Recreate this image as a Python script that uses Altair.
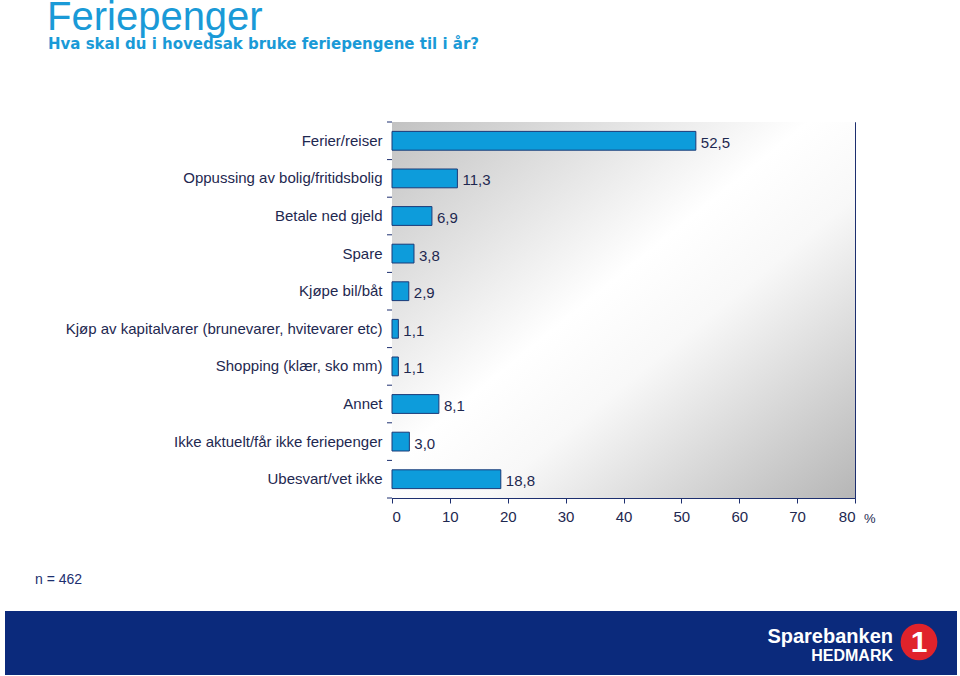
import altair as alt
import pandas as pd

categories = [
    "Ferier/reiser",
    "Oppussing av bolig/fritidsbolig",
    "Betale ned gjeld",
    "Spare",
    "Kjøpe bil/båt",
    "Kjøp av kapitalvarer (brunevarer, hvitevarer etc)",
    "Shopping (klær, sko mm)",
    "Annet",
    "Ikke aktuelt/får ikke feriepenger",
    "Ubesvart/vet ikke",
]
values = [52.5, 11.3, 6.9, 3.8, 2.9, 1.1, 1.1, 8.1, 3.0, 18.8]
x_ticks = [0, 10, 20, 30, 40, 50, 60, 70, 80]

title_text = "Feriepenger"
subtitle_text = "Hva skal du i hovedsak bruke feriepengene til i år?"
n_text = "n = 462"

df = pd.DataFrame({
    "kategori": categories,
    "andel": values,
    "etikett": [f"{v:.1f}".replace(".", ",") for v in values],
})

W, H = 463, 376
PL, PT = 392, 122
STEP = H / len(categories)
NAVY = "#1D2F6F"
TXT = "#1E2850"
BLUE = "#1A9AD7"
FONT = "Liberation Sans"

one = pd.DataFrame({"t": [""]})

bg = alt.Chart(one).mark_rect(
    fill=alt.Gradient(
        gradient="linear",
        stops=[
            alt.GradientStop(color="#c2c2c2", offset=0),
            alt.GradientStop(color="#ffffff", offset=0.45),
            alt.GradientStop(color="#f8f8f8", offset=0.6),
            alt.GradientStop(color="#b6b6b6", offset=1),
        ],
        x1=0, y1=0, x2=1, y2=1,
    )
).encode(x=alt.value(0), x2=alt.value(W), y=alt.value(0), y2=alt.value(H))

y_enc = alt.Y(
    "kategori:N",
    sort=categories,
    scale=alt.Scale(paddingInner=0.5, paddingOuter=0.25),
    axis=alt.Axis(
        title=None, ticks=False, labelPadding=10, labelLimit=500,
        labelFontSize=15, labelFont=FONT, labelColor=TXT, domainColor=NAVY,
    ),
)
x_enc = alt.X(
    "andel:Q",
    scale=alt.Scale(domain=[0, 80], nice=False),
    axis=alt.Axis(
        title=None, values=x_ticks, grid=False, tickSize=5, labelPadding=6,
        labelFontSize=15, labelFont=FONT, labelColor=TXT,
        domainColor=NAVY, tickColor=NAVY,
    ),
)

bars = alt.Chart(df).mark_bar(
    color="#0D9CDB", stroke="#1B3A78", strokeWidth=1
).encode(x=x_enc, y=y_enc)

# category separator ticks on the left axis (at band boundaries)
yticks = alt.Chart(df).mark_rule(color=NAVY, strokeWidth=1, yOffset=-STEP / 2).encode(
    y=alt.Y("kategori:N", sort=categories), x=alt.value(-5), x2=alt.value(0)
)
ytick_end = alt.Chart(one).mark_rule(color=NAVY, strokeWidth=1).encode(
    y=alt.value(H), x=alt.value(-5), x2=alt.value(0)
)

labels = alt.Chart(df).mark_text(
    align="left", baseline="middle", dx=5, dy=2, fontSize=15, font=FONT, color=TXT
).encode(x="andel:Q", y=alt.Y("kategori:N", sort=categories), text="etikett:N")

def txt(s, x, y, **kw):
    return alt.Chart(pd.DataFrame({"t": [s]})).mark_text(**kw).encode(
        x=alt.value(x), y=alt.value(y), text="t:N"
    )

title = txt(title_text, 47 - PL, 30 - PT, align="left", baseline="alphabetic",
            fontSize=40, font=FONT, color=BLUE)
subtitle = txt(subtitle_text, 48 - PL, 49 - PT, align="left", baseline="alphabetic",
               fontSize=15, font="DejaVu Sans", fontWeight="bold", color=BLUE)
pct = txt("%", 864 - PL, 519 - PT, align="left", baseline="middle",
          fontSize=13, font=FONT, color=TXT)
ntxt = txt(n_text, 35 - PL, 580 - PT, align="left", baseline="middle",
           fontSize=14, font=FONT, color=NAVY)

banner = alt.Chart(one).mark_rect(color="#0B2A7C").encode(
    x=alt.value(5 - PL), x2=alt.value(957 - PL), y=alt.value(611 - PT), y2=alt.value(675 - PT)
)
logo1 = txt("Sparebanken", 893 - PL, 643 - PT, align="right", baseline="alphabetic",
            fontSize=20, font=FONT, fontWeight="bold", color="white")
logo2 = txt("HEDMARK", 893 - PL, 661 - PT, align="right", baseline="alphabetic",
            fontSize=16, font=FONT, fontWeight="bold", color="white")
circ = alt.Chart(one).mark_point(filled=True, shape="circle", size=1350, color="#E0232B", opacity=1).encode(
    x=alt.value(919 - PL), y=alt.value(642 - PT)
)
one_txt = txt("1", 919 - PL, 643 - PT, align="center", baseline="middle",
              fontSize=30, font=FONT, fontWeight="bold", color="white")

chart = alt.layer(
    bg, bars, yticks, ytick_end, labels, title, subtitle, pct, ntxt,
    banner, logo1, logo2, circ, one_txt
).properties(
    width=W, height=H,
    autosize=alt.AutoSizeParams(type="none"),
    padding={"left": PL, "top": PT, "right": 960 - PL - W, "bottom": 676 - PT - H},
    background="white",
).configure_view(stroke=NAVY, strokeWidth=1)

chart.save("out.html", embed_options={"renderer": "svg", "actions": False})
